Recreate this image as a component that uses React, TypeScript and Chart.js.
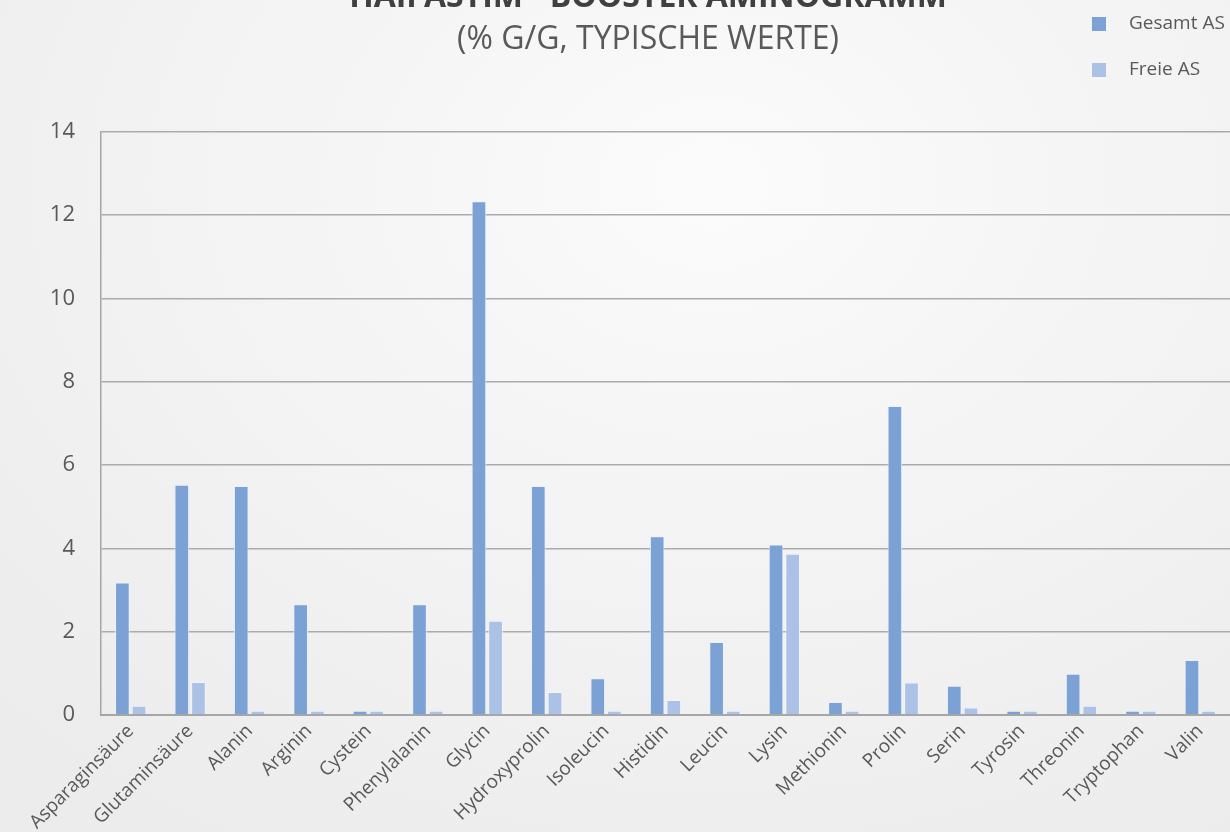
import React, { useEffect, useRef } from "react";
import { Chart, registerables } from "chart.js";

Chart.register(...registerables);

const titleLine1 = "HAIFASTIM - BOOSTER AMINOGRAMM";
const titleLine2 = "(% G/G, TYPISCHE WERTE)";

const categories = [
  "Asparaginsäure", "Glutaminsäure", "Alanin", "Arginin", "Cystein",
  "Phenylalanin", "Glycin", "Hydroxyprolin", "Isoleucin", "Histidin",
  "Leucin", "Lysin", "Methionin", "Prolin", "Serin", "Tyrosin",
  "Threonin", "Tryptophan", "Valin",
];

const seriesLabels = ["Gesamt AS", "Freie AS"];
const seriesColors = ["#7ba1d5", "#abc1e5"];

const gesamtAS = [3.18, 5.53, 5.5, 2.66, 0.1, 2.66, 12.33, 5.5, 0.88, 4.29, 1.75, 4.09, 0.31, 7.42, 0.7, 0.1, 0.99, 0.1, 1.32];
const freieAS = [0.22, 0.79, 0.1, 0.1, 0.1, 0.1, 2.26, 0.55, 0.1, 0.36, 0.1, 3.87, 0.1, 0.78, 0.18, 0.1, 0.22, 0.1, 0.1];

const yTicks = [0, 2, 4, 6, 8, 10, 12, 14];

const FONT = "'Open Sans', 'Noto Sans', sans-serif";
const TEXT = "#595959";

const legendPlugin = {
  id: "sideLegend",
  afterLayout(chart: any) {
    chart.boxes.forEach((b: any) => {
      if (typeof b._drawArgs === "function") {
        b.left += 33;
        b.right += 33;
      }
    });
  },
  afterDraw(chart: any) {
    const ctx = chart.ctx;
    ctx.save();
    ctx.font = `19px ${FONT}`;
    ctx.textBaseline = "middle";
    ctx.textAlign = "left";
    chart.data.datasets.forEach((ds: any, i: number) => {
      const cy = 24 + i * 46;
      ctx.fillStyle = ds.backgroundColor;
      ctx.fillRect(1092, cy - 7, 14, 14);
      ctx.fillStyle = TEXT;
      ctx.fillText(ds.label, 1129, cy);
    });
    ctx.restore();
  },
};

export default function App() {
  const ref = useRef<HTMLCanvasElement>(null);

  useEffect(() => {
    document.body.style.margin = "0";
    const chart = new Chart(ref.current!, {
      type: "bar",
      data: {
        labels: categories,
        datasets: [
          {
            label: seriesLabels[0],
            data: gesamtAS,
            backgroundColor: seriesColors[0],
            borderColor: "rgba(235,241,250,0.9)",
            borderWidth: 1,
          },
          {
            label: seriesLabels[1],
            data: freieAS,
            backgroundColor: seriesColors[1],
            borderColor: "rgba(240,244,252,0.9)",
            borderWidth: 1,
          },
        ],
      },
      options: {
        animation: false,
        responsive: false,
        maintainAspectRatio: false,
        layout: { padding: { left: 0, right: 0, top: 0, bottom: 0 } },
        datasets: {
          bar: { categoryPercentage: 0.56, barPercentage: 0.88 },
        },
        plugins: {
          legend: { display: false },
          tooltip: { enabled: false },
          title: {
            display: true,
            text: titleLine1,
            color: "#404040",
            font: { family: FONT, size: 32, weight: "bold", lineHeight: 1.2 },
            padding: { top: -21, bottom: 0 },
          },
          subtitle: {
            display: true,
            text: titleLine2,
            color: TEXT,
            font: { family: FONT, size: 32, weight: "normal", lineHeight: 1.2 },
            padding: { top: 3, bottom: 73 },
          },
        },
        scales: {
          x: {
            grid: { display: false, drawTicks: false },
            border: { display: true, color: "#a6a6a6", width: 2 },
            ticks: {
              color: TEXT,
              font: { family: FONT, size: 19 },
              minRotation: 45,
              maxRotation: 45,
              autoSkip: false,
              padding: 5,
            },
            afterFit(scale: any) {
              scale.height = 117;
            },
          },
          y: {
            min: 0,
            max: 14,
            afterBuildTicks(scale: any) {
              scale.ticks = yTicks.map((v) => ({ value: v }));
            },
            grid: { color: "#ababab", lineWidth: 1.5, drawTicks: false },
            border: { display: true, color: "#a6a6a6", width: 1.5 },
            ticks: {
              color: TEXT,
              font: { family: FONT, size: 22 },
              padding: 26,
            },
            afterFit(scale: any) {
              scale.width = 101;
            },
          },
        },
      },
      plugins: [legendPlugin],
    });
    return () => chart.destroy();
  }, []);

  return (
    <div
      style={{
        position: "relative",
        width: 1230,
        height: 832,
        overflow: "hidden",
        background:
          "radial-gradient(ellipse 80% 90% at 58% 22%, #fbfbfb 0%, #f4f4f4 45%, #ececec 100%)",
      }}
    >
      <canvas ref={ref} width={1230} height={832} style={{ display: "block" }} />
    </div>
  );
}
